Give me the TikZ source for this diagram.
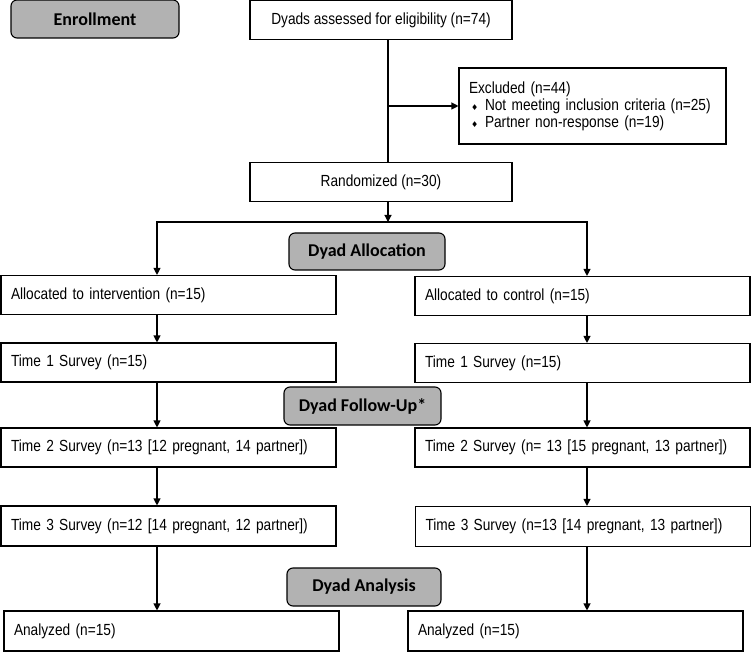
\documentclass[tikz,border=0pt]{standalone}
\usepackage{fontspec}
\setmainfont{Liberation Sans}[FakeStretch=0.85]
\newfontfamily\tagfont{Carlito}
\newfontfamily\symfont{DejaVu Sans}
\usetikzlibrary{arrows.meta}
\definecolor{tagfill}{RGB}{178,178,178}
\newcommand{\boxfont}{\fontsize{16.1}{17}\selectfont\spaceskip=3.8pt\relax}
\newcommand{\bul}{\makebox[16pt][l]{\hspace{2pt}{\symfont\fontsize{8}{8}\selectfont ♦}}}

\begin{document}
\begin{tikzpicture}[x=1pt,y=-1pt,line width=1.1pt,
  cbox/.style={font=\boxfont,draw,inner sep=0pt,minimum width=262pt,minimum height=39pt,align=center},
  lbox/.style={font=\boxfont,draw,inner xsep=10pt,inner ysep=0pt,text width=315pt,minimum height=39pt,align=left},
  tag/.style={draw,rounded corners=6pt,fill=tagfill,inner sep=0pt,minimum height=38pt,font=\tagfont\bfseries\fontsize{18}{20}\selectfont},
  arr/.style={-{Triangle[length=7pt,width=7pt]}}]
\useasboundingbox (0,0) rectangle (752,652);
\node[tag,minimum width=168pt] (enroll) at (95,19) {Enrollment};
\node[cbox] (assess) at (381,20) {Dyads assessed for eligibility (n=74)};
\node[lbox,text width=247pt,minimum height=76pt] (excl) at (592.5,106) {Excluded (n=44)\\\bul Not meeting inclusion criteria (n=25)\\\bul Partner non-response (n=19)};
\node[cbox] (rand) at (381,182) {Randomized (n=30)};
\node[tag,minimum width=156pt,minimum height=37pt] (alloc) at (367,251.5) {Dyad Allocation};
\node[lbox] (intv) at (168.5,295) {Allocated to intervention (n=15)};
\node[lbox] (ctrl) at (582.5,296) {Allocated to control (n=15)};
\node[lbox] (t1L) at (168.5,362.5) {Time 1 Survey (n=15)};
\node[lbox] (t1R) at (582.5,363) {Time 1 Survey (n=15)};
\node[tag,minimum width=157pt] (follow) at (362.5,406) {Dyad Follow-Up*};
\node[lbox] (t2L) at (168.5,447.5) {Time 2 Survey (n=13 [12 pregnant, 14 partner])};
\node[lbox] (t2R) at (582.5,447.5) {Time 2 Survey (n= 13 [15 pregnant, 13 partner])};
\node[lbox,minimum height=40pt] (t3L) at (168.5,526) {Time 3 Survey (n=12 [14 pregnant, 12 partner])};
\node[lbox,minimum height=40pt] (t3R) at (583,526.5) {Time 3 Survey (n=13 [14 pregnant, 13 partner])};
\node[tag,minimum width=154pt] (analysis) at (364,587) {Dyad Analysis};
\node[lbox,minimum height=40pt] (anL) at (171.5,631) {Analyzed (n=15)};
\node[lbox,minimum height=40pt] (anR) at (575.5,631) {Analyzed (n=15)};
\coordinate (mcol) at (388,0);
\coordinate (lcol) at (157,0);
\coordinate (rcol) at (587,0);
\coordinate (split) at (388,222);
\draw (assess.south -| mcol) -- (rand.north -| mcol);
\draw[arr] (mcol |- excl.west) -- (excl.west);
\draw[arr] (rand.south -| mcol) -- (split);
\draw[{Triangle[length=7pt,width=7pt]}-{Triangle[length=7pt,width=7pt]}] (intv.north -| lcol) |- (split) -| (ctrl.north -| rcol);
\draw[arr] (intv.south -| lcol) -- (t1L.north -| lcol);
\draw[arr] (t1L.south -| lcol) -- (t2L.north -| lcol);
\draw[arr] (t2L.south -| lcol) -- (t3L.north -| lcol);
\draw[arr] (t3L.south -| lcol) -- (anL.north -| lcol);
\draw[arr] (ctrl.south -| rcol) -- (t1R.north -| rcol);
\draw[arr] (t1R.south -| rcol) -- (t2R.north -| rcol);
\draw[arr] (t2R.south -| rcol) -- (t3R.north -| rcol);
\draw[arr] (t3R.south -| rcol) -- (anR.north -| rcol);
\end{tikzpicture}
\end{document}
